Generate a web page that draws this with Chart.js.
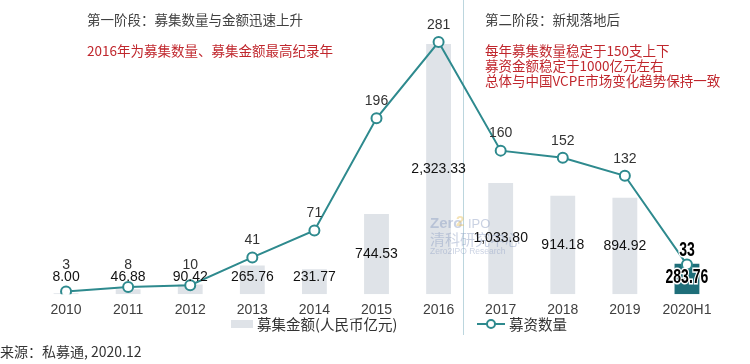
<!DOCTYPE html>
<html>
<head>
<meta charset="utf-8">
<script src="https://cdn.jsdelivr.net/npm/chart.js@4.4.0/dist/chart.umd.min.js"></script>
<style>
  html, body { margin: 0; padding: 0; background: #fff; }
  #wrap { width: 750px; height: 364px; position: relative; }
</style>
</head>
<body>
<div id="wrap"><canvas id="chart_content"></canvas></div>
<script>
var years = ['2010', '2011', '2012', '2013', '2014', '2015', '2016', '2017', '2018', '2019', '2020H1'];
var amount = [8.00, 46.88, 90.42, 265.76, 231.77, 744.53, 2323.33, 1033.80, 914.18, 894.92, 283.76];
var funds = [3, 8, 10, 41, 71, 196, 281, 160, 152, 132, 33];

var TEAL = '#2e8a8e';
var DARK = '#1e6e79';
var GRAY = '#dfe3e8';
var RED = '#c0272d';
var CJK = '"Noto Sans CJK SC", "Liberation Sans", sans-serif';
var NUM = '"Liberation Sans", Arial, sans-serif';

var barColors = years.map(function (y, i) { return i == years.length - 1 ? DARK : GRAY; });

function fmt(v) {
  return v.toLocaleString('en-US', { minimumFractionDigits: 2, maximumFractionDigits: 2 });
}

// bold squeezed text with a white halo, for the 2020H1 figures
function strongText(ctx, txt, x, y) {
  ctx.save();
  ctx.translate(x, y);
  ctx.scale(0.7, 1);
  ctx.font = 'bold 20px ' + NUM;
  ctx.lineWidth = 3;
  ctx.strokeStyle = '#fff';
  ctx.strokeText(txt, 0, 0);
  ctx.fillStyle = '#000';
  ctx.fillText(txt, 0, 0);
  ctx.restore();
}

// value labels for bars and points
var labelPlugin = {
  id: 'labels',
  afterDatasetsDraw: function (chart) {
    var ctx = chart.ctx;
    var last = years.length - 1;
    var bars = chart.getDatasetMeta(0).data;
    var pts = chart.getDatasetMeta(1).data;
    ctx.save();
    ctx.textAlign = 'center';
    ctx.textBaseline = 'middle';
    bars.forEach(function (b, i) {
      var y = Math.min((b.y + b.base) / 2, 277);
      if (i == last) {
        strongText(ctx, fmt(amount[i]), b.x, y);
      } else {
        ctx.font = '14px ' + NUM;
        ctx.fillStyle = '#111';
        ctx.fillText(fmt(amount[i]), b.x, y);
      }
    });
    pts.forEach(function (p, i) {
      if (i == last) {
        strongText(ctx, String(funds[i]), p.x, p.y - 14);
      } else {
        ctx.font = '14px ' + NUM;
        ctx.fillStyle = '#333';
        ctx.fillText(String(funds[i]), p.x, Math.min(p.y - 17, 265));
      }
    });
    ctx.restore();
  }
};

// stage notes, divider, watermark, legend, source
var notesPlugin = {
  id: 'notes',
  beforeDatasetsDraw: function (chart) {
    var ctx = chart.ctx;
    var xs = chart.scales.x;
    var x = Math.round(xs.getPixelForValue(6.39)) + 0.5;
    ctx.save();
    ctx.strokeStyle = '#bcd6de';
    ctx.lineWidth = 1;
    ctx.beginPath();
    ctx.moveTo(x, 0);
    ctx.lineTo(x, 335);
    ctx.stroke();
    ctx.restore();
  },
  afterDatasetsDraw: function (chart) {
    // faint watermark, under the value labels
    var ctx = chart.ctx;
    ctx.save();
    ctx.textBaseline = 'middle';
    ctx.textAlign = 'left';
    ctx.globalAlpha = 0.45;
    ctx.font = 'bold 15px ' + NUM;
    ctx.fillStyle = '#8a9cc0';
    ctx.fillText('Zero', 430, 224);
    ctx.fillStyle = '#e8c15a';
    ctx.fillText('2', 456, 222);
    ctx.fillStyle = '#8a9cc0';
    ctx.font = '13px ' + NUM;
    ctx.fillText('IPO', 468, 224);
    ctx.font = '15px ' + CJK;
    ctx.fillText('清科研究中心', 430, 239);
    ctx.font = '8.5px ' + NUM;
    ctx.fillText('Zero2IPO Research', 430, 252);
    ctx.restore();
  },
  afterDraw: function (chart) {
    var ctx = chart.ctx;
    ctx.save();
    ctx.textBaseline = 'middle';
    ctx.textAlign = 'left';

    ctx.font = '13.5px ' + CJK;
    ctx.fillStyle = '#404040';
    ctx.fillText('第一阶段：募集数量与金额迅速上升', 87, 20);
    ctx.fillText('第二阶段：新规落地后', 485, 20);
    ctx.fillStyle = RED;
    ctx.fillText('2016年为募集数量、募集金额最高纪录年', 87, 51);
    ctx.fillText('每年募集数量稳定于150支上下', 485, 51);
    ctx.fillText('募资金额稳定于1000亿元左右', 485, 66);
    ctx.fillText('总体与中国VCPE市场变化趋势保持一致', 485, 81);

    // legend
    ctx.fillStyle = GRAY;
    ctx.fillRect(231, 320, 22, 8);
    ctx.font = '14.5px ' + CJK;
    ctx.fillStyle = '#333';
    ctx.fillText(chart.data.datasets[0].label, 257, 324);
    ctx.strokeStyle = TEAL;
    ctx.lineWidth = 2;
    ctx.beginPath();
    ctx.moveTo(477, 324);
    ctx.lineTo(505, 324);
    ctx.stroke();
    ctx.beginPath();
    ctx.arc(491, 324, 4, 0, Math.PI * 2);
    ctx.fillStyle = '#fff';
    ctx.fill();
    ctx.stroke();
    ctx.fillStyle = '#333';
    ctx.fillText(chart.data.datasets[1].label, 509, 324);

    ctx.font = '14px ' + CJK;
    ctx.fillStyle = '#333';
    ctx.fillText('来源：私募通, 2020.12', 0, 352);
    ctx.restore();
  }
};

var config = {
  type: 'bar',
  data: {
    labels: years,
    datasets: [{
      type: 'bar',
      label: '募集金额(人民币亿元)',
      data: amount,
      backgroundColor: barColors,
      barPercentage: 0.8,
      categoryPercentage: 0.5,
      yAxisID: 'y',
      order: 2
    }, {
      type: 'line',
      label: '募资数量',
      data: funds,
      borderColor: TEAL,
      borderWidth: 2,
      pointRadius: 5,
      pointBorderWidth: 2,
      pointBackgroundColor: '#fff',
      pointBorderColor: TEAL,
      tension: 0,
      yAxisID: 'y1',
      order: 1
    }]
  },
  options: {
    responsive: false,
    animation: false,
    layout: { padding: { top: 25, left: 35, right: 32, bottom: 45 } },
    plugins: {
      legend: { display: false },
      tooltip: { enabled: false }
    },
    scales: {
      x: {
        grid: { display: false },
        border: { display: false },
        ticks: { color: '#404040', padding: 0, font: { size: 14, family: 'Liberation Sans' } }
      },
      y: { display: false, min: 0, max: 2500 },
      y1: { display: false, min: 0, max: 300 }
    }
  },
  plugins: [notesPlugin, labelPlugin]
};

var canvasElement = document.getElementById('chart_content');
canvasElement.width = 750;
canvasElement.height = 364;
var content_chart = new Chart(canvasElement, config);
</script>
</body>
</html>
